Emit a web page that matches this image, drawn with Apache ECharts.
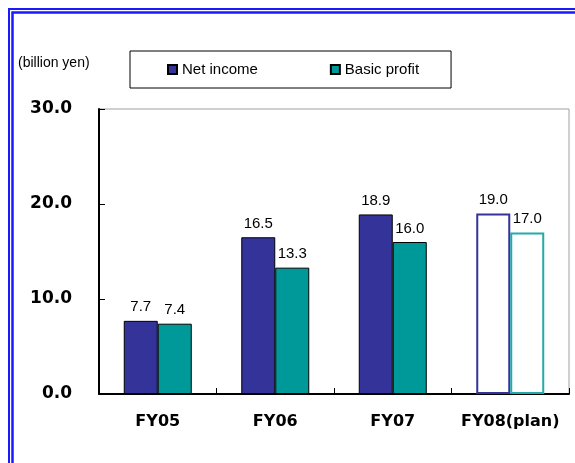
<!DOCTYPE html>
<html>
<head>
<meta charset="utf-8">
<script src="https://cdn.jsdelivr.net/npm/echarts@6/dist/echarts.min.js"></script>
<style>
  html, body { margin: 0; padding: 0; background: #fff; }
  #chart { width: 575px; height: 463px; }
</style>
</head>
<body>
<div id="chart"></div>
<script>
// Fiscal years shown on the category axis
const categories = ['FY05', 'FY06', 'FY07', 'FY08(plan)'];
// Results in billion yen
const netIncome = [7.7, 16.5, 18.9, 19.0];
const basicProfit = [7.4, 13.3, 16.0, 17.0];
// Value axis ticks
const yTicks = [0, 10, 20, 30];
// Index of the planned (forecast) year, drawn as hollow bars
const planIndex = 3;

const netColor = '#333399';
const basicColor = '#009999';
const basicPlanColor = '#22aaaa';

function toItems(values, planBorder) {
  return values.map((v, i) => i === planIndex
    ? { value: v, itemStyle: { color: '#ffffff', borderColor: planBorder, borderWidth: 2 } }
    : { value: v });
}

const labelStyle = {
  show: true,
  position: 'top',
  distance: 6,
  fontFamily: 'Liberation Sans',
  fontSize: 15,
  color: '#000',
  formatter: p => p.value.toFixed(1)
};

const chart = echarts.init(document.getElementById('chart'), null, { renderer: 'canvas' });
chart.setOption({
  animation: false,
  backgroundColor: '#ffffff',
  graphic: [
    { type: 'rect', shape: { x: 9, y: 9, width: 700, height: 600 },
      style: { fill: 'none', stroke: '#1a1aff', lineWidth: 2 }, silent: true },
    { type: 'rect', shape: { x: 12.5, y: 12.5, width: 700, height: 600 },
      style: { fill: 'none', stroke: '#1a1aff', lineWidth: 2.5 }, silent: true },
    { type: 'text', left: 18, top: 56,
      style: { text: '(billion yen)', fontFamily: 'Liberation Sans', fontSize: 14, fill: '#000' } }
  ],
  legend: {
    left: 130, top: 51,
    padding: [11, 32, 11, 37],
    borderColor: '#000', borderWidth: 1,
    itemGap: 72, itemWidth: 9, itemHeight: 9,
    icon: 'rect',
    textStyle: { fontFamily: 'Liberation Sans', fontSize: 15, color: '#000' },
    data: ['Net income', 'Basic profit']
  },
  grid: {
    left: 99, top: 109, right: 6, bottom: 69,
    show: true, borderColor: '#a0a0a0', borderWidth: 1, backgroundColor: 'transparent'
  },
  xAxis: {
    type: 'category',
    data: categories,
    boundaryGap: true,
    axisLine: { lineStyle: { color: '#000', width: 2 } },
    axisTick: { show: true, inside: true, length: 6, interval: 0, lineStyle: { color: '#000', width: 1 } },
    axisLabel: { interval: 0, fontFamily: 'DejaVu Sans', fontWeight: 'bold', fontSize: 16, color: '#000', margin: 20 }
  },
  yAxis: {
    type: 'value',
    min: yTicks[0], max: yTicks[yTicks.length - 1], interval: yTicks[1] - yTicks[0],
    axisLine: { show: true, lineStyle: { color: '#000', width: 2 } },
    axisTick: { show: true, inside: true, length: 6, lineStyle: { color: '#000', width: 1 } },
    splitLine: { show: false },
    axisLabel: { fontFamily: 'DejaVu Sans', fontWeight: 'bold', fontSize: 17, color: '#000', margin: 27,
      formatter: v => v.toFixed(1) }
  },
  series: [
    {
      name: 'Net income', type: 'bar', barWidth: 34, barGap: '0%',
      itemStyle: { color: netColor, borderColor: '#000', borderWidth: 1 },
      label: labelStyle,
      data: toItems(netIncome, netColor)
    },
    {
      name: 'Basic profit', type: 'bar', barWidth: 34, barGap: '0%',
      itemStyle: { color: basicColor, borderColor: '#000', borderWidth: 1 },
      label: labelStyle,
      data: toItems(basicProfit, basicPlanColor)
    }
  ]
});
</script>
</body>
</html>
